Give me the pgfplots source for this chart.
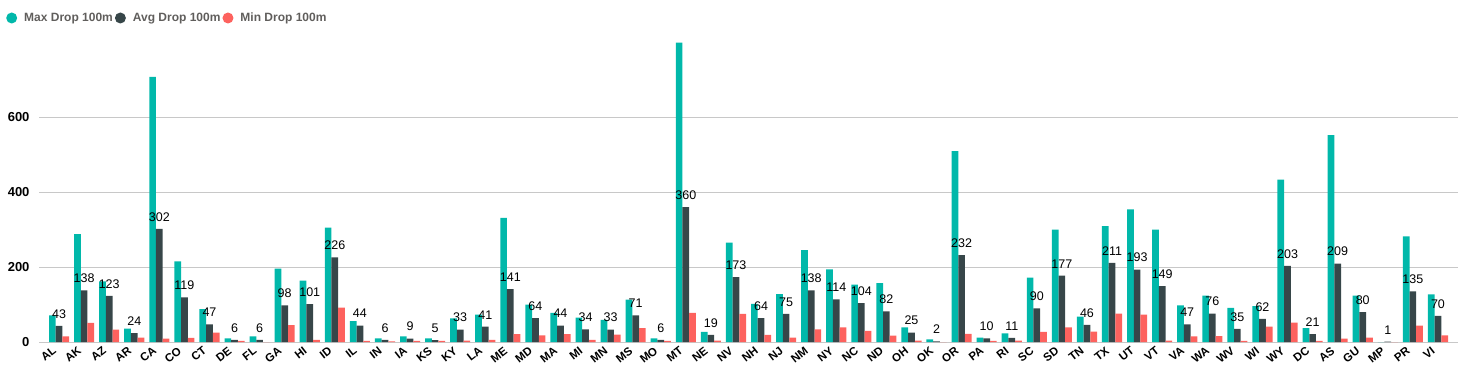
\documentclass[border=0pt]{standalone}
\usepackage{fontspec}
\setmainfont{Liberation Sans}
\usepackage{graphicx}
\usepackage{pgfplots}
\pgfplotsset{compat=1.18}
\usepackage{pgfplotstable}
\definecolor{cmax}{HTML}{01B8AA}
\definecolor{cavg}{HTML}{374649}
\definecolor{cmin}{HTML}{FD625E}
\definecolor{gridc}{HTML}{C8C8C8}
\definecolor{legtext}{HTML}{605E5C}
\newcommand\rl[1]{\rotatebox{38}{#1}}

\pgfplotstableread{
x max avg min
0 71 43 15
1 288 138 51
2 162 123 33
3 36 24 12
4 707 302 9
5 215 119 11
6 88 47 25
7 10 6 3
8 15 6 0
9 196 98 45
10 164 101 6
11 305 226 92
12 56 44 3
13 10 6 2
14 15 9 3
15 10 5 3
16 63 33 4
17 73 41 6
18 331 141 21
19 100 64 18
20 78 44 21
21 65 34 6
22 59 33 20
23 113 71 37
24 10 6 3
25 798 360 78
26 27 19 4
27 265 173 75
28 102 64 19
29 128 75 12
30 245 138 34
31 194 114 39
32 153 104 30
33 157 82 17
34 39 25 4
35 7 2 0
36 509 232 22
37 12 10 3
38 23 11 4
39 172 90 27
40 300 177 39
41 68 46 28
42 309 211 76
43 354 193 73
44 300 149 4
45 98 47 15
46 124 76 16
47 91 35 3
48 96 62 41
49 433 203 52
50 37 21 3
51 552 209 9
52 124 80 12
53 0 1 0
54 282 135 44
55 127 70 18
}\data

\begin{document}
\begin{tikzpicture}
\begin{axis}[name=ax, scale only axis, width=1419pt, height=300pt,
 ybar=0pt, bar width=0.267,
 xmin=-0.8, xmax=55.8, ymin=0, ymax=800,
 xtick={0,...,55},
 xticklabels={\rl{AL},\rl{AK},\rl{AZ},\rl{AR},\rl{CA},\rl{CO},\rl{CT},\rl{DE},\rl{FL},\rl{GA},\rl{HI},\rl{ID},\rl{IL},\rl{IN},\rl{IA},\rl{KS},\rl{KY},\rl{LA},\rl{ME},\rl{MD},\rl{MA},\rl{MI},\rl{MN},\rl{MS},\rl{MO},\rl{MT},\rl{NE},\rl{NV},\rl{NH},\rl{NJ},\rl{NM},\rl{NY},\rl{NC},\rl{ND},\rl{OH},\rl{OK},\rl{OR},\rl{PA},\rl{RI},\rl{SC},\rl{SD},\rl{TN},\rl{TX},\rl{UT},\rl{VT},\rl{VA},\rl{WA},\rl{WV},\rl{WI},\rl{WY},\rl{DC},\rl{AS},\rl{GU},\rl{MP},\rl{PR},\rl{VI}},
 ytick={0,200,400,600},
 ymajorgrids, grid style={gridc, line width=0.8pt},
 axis line style={draw=none}, major tick length=0pt,
 /pgf/number format/assume math mode=true,
 yticklabel style={font=\bfseries\fontsize{13}{15}\selectfont, text=black, xshift=-6pt},
 xticklabel style={font=\bfseries\fontsize{11.5}{13}\selectfont, text=black, anchor=north east, inner sep=0pt, yshift=-4pt, xshift=-2pt},
 legend columns=3,
 legend style={at={(0,1)}, anchor=west, xshift=-33pt, yshift=24pt, draw=none, fill=none, inner sep=0pt,
   font=\bfseries\fontsize{12}{14}\selectfont, text=legtext,
   /tikz/every even column/.append style={column sep=0pt},
   /tikz/every odd column/.append style={column sep=5pt}},
 legend image code/.code={\fill[#1] (5.5pt,0pt) circle (5.5pt);},
]
\addplot[fill=cmax, draw=none] table[x=x,y=max]{\data};
\addplot[fill=cavg, draw=none, nodes near coords,
  every node near coord/.append style={font=\fontsize{12.5}{14}\selectfont, text=black, yshift=4pt}] table[x=x,y=avg]{\data};
\addplot[fill=cmin, draw=none] table[x=x,y=min]{\data};
\legend{Max Drop 100m, Avg Drop 100m, Min Drop 100m}
\end{axis}
\pgfresetboundingbox
\path[use as bounding box] ([xshift=-39pt,yshift=-33pt]ax.south west) rectangle ([xshift=2pt,yshift=42pt]ax.north east);
\end{tikzpicture}
\end{document}
